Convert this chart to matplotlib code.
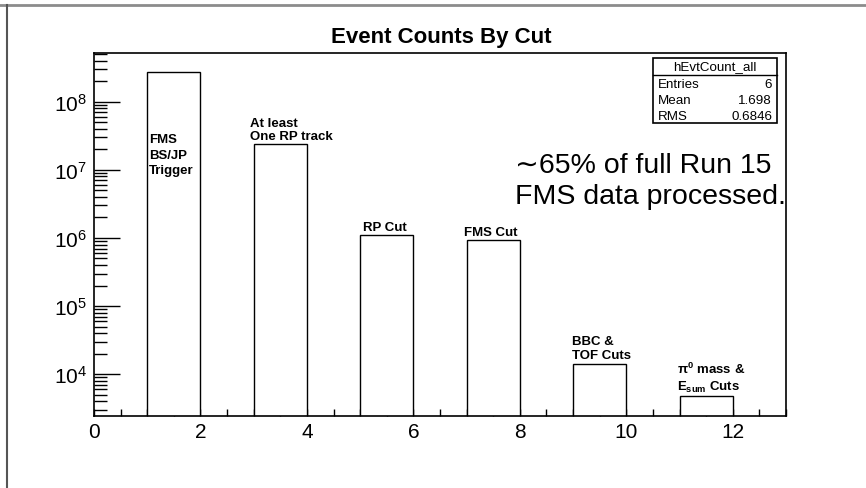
import matplotlib
matplotlib.use("Agg")
import matplotlib.pyplot as plt
from matplotlib.lines import Line2D
from matplotlib.patches import Rectangle
from matplotlib.ticker import LogLocator, MultipleLocator, NullFormatter

plt.rcParams["font.family"] = ["Liberation Sans", "DejaVu Sans"]
plt.rcParams["mathtext.fontset"] = "custom"
plt.rcParams["mathtext.rm"] = "Liberation Sans"
plt.rcParams["mathtext.it"] = "Liberation Sans:italic"
plt.rcParams["mathtext.bf"] = "Liberation Sans:bold"

# histogram bins (left edge) and event counts after each cut
bin_lo = [1, 3, 5, 7, 9, 11]
counts = [2.7e8, 2.38e7, 1.12e6, 9.4e5, 1.43e4, 4.7e3]
cut_labels = [
    "FMS\nBS/JP\nTrigger",
    "At least\nOne RP track",
    "RP Cut",
    "FMS Cut",
    "BBC &\nTOF Cuts",
    "\u03c0$^{\\mathbf{0}}$ mass &\nE$_{\\mathbf{sum}}$ Cuts",
]
stat_names = ["Entries", "Mean", "RMS"]
stat_values = ["6", "1.698", "0.6846"]

W, H = 866, 489


def fx(px):
    return px / W


def fy(py):
    return 1 - py / H


fig = plt.figure(figsize=(W / 100, H / 100), dpi=100)
ax = fig.add_axes([fx(94), fy(417), fx(786) - fx(94), fy(54) - fy(417)])

ax.bar(bin_lo, counts, width=1, align="edge", color="white",
       edgecolor="black", linewidth=1.0, zorder=2)
ax.set_axisbelow(True)
ax.set_yscale("log")
ax.set_xlim(0, 13)
ax.set_ylim(2430, 5.2e8)

ax.xaxis.set_major_locator(MultipleLocator(2))
ax.xaxis.set_minor_locator(MultipleLocator(0.5))
ax.yaxis.set_major_locator(LogLocator(base=10))
ax.yaxis.set_minor_locator(LogLocator(base=10, subs=range(2, 10)))
ax.yaxis.set_minor_formatter(NullFormatter())
ax.tick_params(axis="x", which="both", direction="in", length=5, width=1,
               labelsize=15, pad=4, top=False)
ax.tick_params(axis="y", which="major", direction="in", length=19, width=1,
               labelsize=15, pad=5, right=False)
ax.tick_params(axis="y", which="minor", direction="in", length=9, width=1,
               right=False)
for sp in ax.spines.values():
    sp.set_linewidth(1.2)

# labels above the bars (first one sits inside its bar)
dx_px = [2, -4, 3, -3, -1, -3]
spacing = [1.41, 1.09, 1.0, 1.0, 1.28, 1.28]
for i, (x0, c, lab) in enumerate(zip(bin_lo, counts, cut_labels)):
    if i == 0:
        ax.annotate(lab, (x0, c), xytext=(dx_px[i] * 0.72, -101 * 0.72),
                    textcoords="offset points", fontsize=9.5, fontweight="bold",
                    va="baseline", ha="left", linespacing=spacing[i])
    else:
        ax.annotate(lab, (x0, c), xytext=(dx_px[i] * 0.72, 1.5),
                    textcoords="offset points", fontsize=9.5, fontweight="bold",
                    va="bottom", ha="left", linespacing=spacing[i])

fig.text(fx(441.5), fy(43.3), "Event Counts By Cut", fontsize=16,
         fontweight="bold", ha="center", va="baseline")
fig.text(fx(515), fy(173.3), "\u223c65% of full Run 15", fontsize=20.5,
         ha="left", va="baseline")
fig.text(fx(515), fy(204), "FMS data processed.", fontsize=20.5,
         ha="left", va="baseline")

# stats box
fig.add_artist(Rectangle((fx(653), fy(124)), fx(777) - fx(653), fy(59) - fy(124),
                         transform=fig.transFigure, facecolor="white",
                         edgecolor="black", linewidth=1.2))
fig.add_artist(Line2D([fx(653), fx(777)], [fy(76), fy(76)],
                      transform=fig.transFigure, color="black", linewidth=1))
fig.text(fx(715), fy(70.5), "hEvtCount_all", fontsize=9.6, ha="center",
         va="baseline")
for k, (nm, val) in enumerate(zip(stat_names, stat_values)):
    yy = fy(88.5 + k * 15.5)
    fig.text(fx(658), yy, nm, fontsize=9.6, ha="left", va="baseline")
    fig.text(fx(772), yy, val, fontsize=9.6, ha="right", va="baseline")

# gray slide border on top and left
fig.add_artist(Line2D([0, 1], [fy(6), fy(6)], transform=fig.transFigure,
                      color="#8c8c8c", linewidth=2))
fig.add_artist(Line2D([fx(7), fx(7)], [0, fy(6)], transform=fig.transFigure,
                      color="#555555", linewidth=1.5))

fig.savefig("out.png", dpi=100)
